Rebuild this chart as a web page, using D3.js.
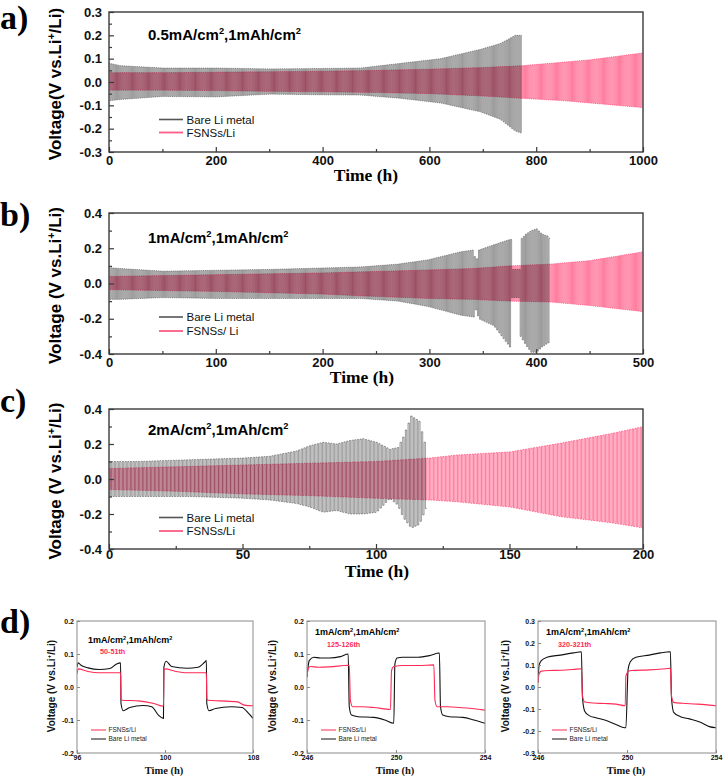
<!DOCTYPE html>
<html><head><meta charset="utf-8">
<script src="https://cdn.jsdelivr.net/npm/d3@7"></script>
<style>body{margin:0;background:#fff}svg{display:block}</style>
</head><body><div id="chart"></div>
<script>
// ================= DATA =================
const seriesNames = ["Bare Li metal", "FSNSs/Li"];

// ---- panel a: 0.5 mA/cm2, 1 mAh/cm2 (envelopes of the cycling curves) ----
const aHalfCycle = 2;
const aBareT  = [0, 20, 100, 200, 300, 400, 470, 545, 620, 695, 732, 760, 773];
const aBareHi = [0.08, 0.07, 0.06, 0.06, 0.056, 0.058, 0.06, 0.08, 0.1, 0.14, 0.165, 0.2, 0.2];
const aBareLo = [-0.08, -0.075, -0.062, -0.064, -0.052, -0.055, -0.056, -0.07, -0.09, -0.128, -0.16, -0.21, -0.22];
const aFsnT   = [0, 100, 200, 300, 400, 500, 600, 700, 773, 850, 900, 950, 1000];
const aFsnHi  = [0.04, 0.04, 0.042, 0.044, 0.046, 0.05, 0.055, 0.062, 0.07, 0.085, 0.095, 0.11, 0.125];
const aFsnLo  = [-0.035, -0.035, -0.037, -0.04, -0.042, -0.045, -0.05, -0.06, -0.07, -0.08, -0.09, -0.1, -0.11];
const aXTicks = [0, 200, 400, 600, 800, 1000];
const aXMinor = [100, 300, 500, 700, 900];
const aYTicks = [-0.3, -0.2, -0.1, 0.0, 0.1, 0.2, 0.3];
const aYMinor = [-0.25, -0.15, -0.05, 0.05, 0.15, 0.25];

// ---- panel b: 1 mA/cm2, 1 mAh/cm2 ----
const bHalfCycle = 1;
const bBareT  = [0, 10, 50, 100, 150, 200, 235, 270, 298, 329, 341, 343, 346, 360, 375, 376, 377, 384, 385, 390, 395, 400, 405, 410, 413];
const bBareHi = [0.09, 0.085, 0.07, 0.075, 0.08, 0.088, 0.094, 0.11, 0.134, 0.18, 0.19, 0.116, 0.19, 0.22, 0.25, 0.25, 0.08, 0.08, 0.25, 0.28, 0.3, 0.31, 0.28, 0.27, 0.25];
const bBareLo = [-0.09, -0.09, -0.08, -0.085, -0.085, -0.085, -0.085, -0.1, -0.13, -0.18, -0.19, -0.15, -0.2, -0.24, -0.36, -0.36, -0.08, -0.08, -0.3, -0.35, -0.39, -0.39, -0.36, -0.34, -0.33];
const bFsnT   = [0, 100, 200, 235, 300, 340, 375, 413, 450, 500];
const bFsnHi  = [0.04, 0.05, 0.06, 0.066, 0.077, 0.085, 0.1, 0.11, 0.13, 0.18];
const bFsnLo  = [-0.035, -0.045, -0.06, -0.07, -0.085, -0.09, -0.1, -0.105, -0.125, -0.16];
const bXTicks = [0, 100, 200, 300, 400, 500];
const bXMinor = [50, 150, 250, 350, 450];
const bYTicks = [-0.4, -0.2, 0.0, 0.2, 0.4];
const bYMinor = [-0.3, -0.1, 0.1, 0.3];

// ---- panel c: 2 mA/cm2, 1 mAh/cm2 ----
const cHalfCycle = 0.5;
const cBareT  = [0, 10, 30, 50, 60, 70, 75, 80, 85, 90, 95, 100, 105, 108, 110, 113, 116, 119];
const cBareHi = [0.1, 0.1, 0.11, 0.12, 0.13, 0.16, 0.19, 0.21, 0.2, 0.22, 0.23, 0.21, 0.17, 0.18, 0.24, 0.36, 0.33, 0.15];
const cBareLo = [-0.1, -0.1, -0.1, -0.11, -0.12, -0.14, -0.16, -0.19, -0.18, -0.2, -0.2, -0.19, -0.11, -0.15, -0.22, -0.28, -0.26, -0.15];
const cFsnT   = [0, 25, 50, 75, 100, 120, 130, 150, 169, 188, 200];
const cFsnHi  = [0.06, 0.07, 0.08, 0.09, 0.1, 0.12, 0.137, 0.155, 0.205, 0.26, 0.3];
const cFsnLo  = [-0.06, -0.07, -0.085, -0.095, -0.11, -0.12, -0.13, -0.16, -0.215, -0.25, -0.28];
const cFsnFirstValue = -0.4;
const cXTicks = [0, 50, 100, 150, 200];
const cXMinor = [25, 75, 125, 175];
const cYTicks = [-0.4, -0.2, 0.0, 0.2, 0.4];
const cYMinor = [-0.3, -0.1, 0.1, 0.3];

// ---- panel d: voltage profiles of selected cycles (1 mA/cm2) ----
const d1FsnT  = [96, 96.05, 96.5, 97, 97.98, 98.0, 98.05, 98.8, 99.5, 99.93, 99.95, 100.0, 100.5, 101, 101.88, 101.9, 101.95, 102.5, 103.3, 103.6, 104];
const d1FsnV  = [0.04, 0.055, 0.047, 0.043, 0.043, -0.035, -0.04, -0.042, -0.05, -0.058, 0.05, 0.055, 0.047, 0.043, 0.043, -0.035, -0.04, -0.042, -0.045, -0.055, -0.057];
const d1BareT = [96, 96.05, 96.2, 96.5, 97, 97.5, 97.8, 97.98, 98.0, 98.1, 98.4, 99, 99.4, 99.7, 99.93, 99.95, 100.05, 100.3, 101, 101.5, 101.8, 101.88, 101.9, 102.0, 102.3, 103, 103.5, 103.8, 104];
const d1BareV = [0.06, 0.073, 0.065, 0.058, 0.053, 0.056, 0.07, 0.073, -0.05, -0.072, -0.062, -0.056, -0.06, -0.085, -0.095, 0.06, 0.078, 0.062, 0.057, 0.06, 0.075, 0.08, -0.05, -0.072, -0.065, -0.06, -0.062, -0.08, -0.095];
const d1XTicks = [96, 100, 104];
const d1XLabels = ["96", "100", "108"];

const d2FsnT  = [246, 246.05, 246.15, 246.5, 247, 247.9, 247.95, 248.05, 248.5, 249, 249.75, 249.8, 249.9, 250.3, 251, 251.7, 251.75, 251.85, 252.3, 253, 254];
const d2FsnV  = [0.03, 0.055, 0.062, 0.06, 0.061, 0.066, -0.04, -0.06, -0.06, -0.062, -0.068, 0.05, 0.062, 0.065, 0.065, 0.067, -0.04, -0.06, -0.06, -0.063, -0.07];
const d2BareT = [246, 246.1, 246.3, 246.6, 247, 247.5, 247.85, 247.9, 248.0, 248.3, 249, 249.5, 249.9, 249.95, 250.05, 250.3, 251, 251.5, 251.95, 252.0, 252.1, 252.4, 253, 253.5, 254];
const d2BareV = [0.03, 0.08, 0.09, 0.088, 0.088, 0.092, 0.1, -0.06, -0.085, -0.09, -0.092, -0.1, -0.11, 0.07, 0.088, 0.09, 0.09, 0.095, 0.103, -0.06, -0.085, -0.09, -0.092, -0.1, -0.11];

const d3FsnT  = [246, 246.05, 246.15, 246.5, 247, 247.6, 247.95, 248.0, 248.1, 248.5, 249, 249.5, 249.92, 249.95, 250.05, 250.2, 251, 251.6, 251.95, 252.0, 252.1, 252.5, 253, 253.5, 254];
const d3FsnV  = [0.02, 0.06, 0.072, 0.075, 0.076, 0.08, 0.083, -0.04, -0.068, -0.073, -0.075, -0.078, -0.085, 0.05, 0.07, 0.075, 0.078, 0.082, 0.085, -0.04, -0.07, -0.074, -0.077, -0.08, -0.085];
const d3BareT = [246, 246.05, 246.15, 246.4, 247, 247.6, 247.95, 248.0, 248.1, 248.3, 248.6, 249, 249.5, 249.9, 249.95, 250.05, 250.15, 250.4, 251, 251.5, 251.95, 252.0, 252.1, 252.4, 252.8, 253.3, 253.7, 254];
const d3BareV = [0.02, 0.1, 0.12, 0.135, 0.145, 0.155, 0.16, -0.05, -0.11, -0.13, -0.14, -0.15, -0.17, -0.185, -0.185, 0.08, 0.115, 0.135, 0.145, 0.155, 0.16, -0.05, -0.115, -0.135, -0.145, -0.16, -0.18, -0.185];
const d23XTicks = [246, 250, 254];
const dYTicks2 = [-0.2, -0.1, 0.0, 0.1, 0.2];
const dYTicks3 = [-0.3, -0.2, -0.1, 0.0, 0.1, 0.2, 0.3];
const dCycleLabels = ["50-51th", "125-126th", "320-321th"];

// ================= DRAWING =================
const W = 723, H = 778;
const SANS = "'Liberation Sans', Arial, sans-serif";
const SERIF = "'Liberation Serif', 'Times New Roman', serif";
const BLACK = "#1e1e1e", PINK = "#ff3a6e", RED = "#ff2a55";

const svg = d3.select("#chart").append("svg").attr("width", W).attr("height", H)
  .style("background", "#fff");

function rich(g, x, y, parts, opts) {
  const t = g.append("text").attr("x", x).attr("y", y);
  Object.entries(opts.attrs || {}).forEach(([k, v]) => t.attr(k, v));
  const fs = opts.size, sh = fs * 0.38;
  let up = false;
  parts.forEach(p => {
    if (p.startsWith("^")) {
      t.append("tspan").attr("dy", -sh).attr("font-size", fs * 0.62).text(p.slice(1));
      up = true;
    } else {
      const ts = t.append("tspan").text(p);
      if (up) { ts.attr("dy", sh); up = false; }
    }
  });
  return t;
}

function waveData(T, Hi, Lo, half) {
  const hi = d3.scaleLinear().domain(T).range(Hi);
  const lo = d3.scaleLinear().domain(T).range(Lo);
  const t0 = T[0], end = T[T.length - 1];
  const n = Math.round((end - t0) / half);
  const pts = [];
  for (let k = 0; k < n; k++) {
    const t = t0 + k * half;
    pts.push([t, k % 2 === 0 ? hi(t) : lo(t)]);
  }
  const last = pts[pts.length - 1];
  pts.push([end, last[1]]);
  return pts;
}

const mainPanels = [
  { key: "a", L: 109, R: 643, T: 12, B: 152, xMax: 1000, xTicks: aXTicks, xMinor: aXMinor, yTicks: aYTicks, yMinor: aYMinor,
    yDom: [-0.3, 0.3], half: aHalfCycle,
    bare: [aBareT, aBareHi, aBareLo], fsn: [aFsnT, aFsnHi, aFsnLo], fsnFirst: null,
    title: ["0.5mA/cm", "^2", ",1mAh/cm", "^2"], titleY: 40,
    yLabel: ["Voltage(V vs.Li", "^+", "/Li)"], letterY: 29, xLabOff: 14, timeX: 366, timeY: 181,
    legY: [119.5, 132.5], legNames: ["Bare Li metal", "FSNSs/Li"] },
  { key: "b", L: 109, R: 643, T: 213, B: 354, xMax: 500, xTicks: bXTicks, xMinor: bXMinor, yTicks: bYTicks, yMinor: bYMinor,
    yDom: [-0.4, 0.4], half: bHalfCycle,
    bare: [bBareT, bBareHi, bBareLo], fsn: [bFsnT, bFsnHi, bFsnLo], fsnFirst: null,
    title: ["1mA/cm", "^2", ",1mAh/cm", "^2"], titleY: 243,
    yLabel: ["Voltage (V vs.Li", "^+", "/Li)"], letterY: 226, xLabOff: 14, timeX: 362, timeY: 383,
    legY: [317, 331], legNames: ["Bare Li metal", "FSNSs/ Li"] },
  { key: "c", L: 109, R: 643, T: 409, B: 549, xMax: 200, xTicks: cXTicks, xMinor: cXMinor, yTicks: cYTicks, yMinor: cYMinor,
    yDom: [-0.4, 0.4], half: cHalfCycle,
    bare: [cBareT, cBareHi, cBareLo], fsn: [cFsnT, cFsnHi, cFsnLo], fsnFirst: cFsnFirstValue,
    title: ["2mA/cm", "^2", ",1mAh/cm", "^2"], titleY: 435,
    yLabel: ["Voltage (V vs.Li", "^+", "/Li)"], letterY: 412, xLabOff: 10.5, timeX: 377, timeY: 577,
    legY: [517.5, 531], legNames: ["Bare Li metal", "FSNSs/Li"] }
];

const fmt1 = d => d.toFixed(1);

mainPanels.forEach(p => {
  const g = svg.append("g");
  const x = d3.scaleLinear().domain([0, p.xMax]).range([p.L, p.R]);
  const y = d3.scaleLinear().domain(p.yDom).range([p.B, p.T]);
  const clipId = "clip-" + p.key;
  svg.append("clipPath").attr("id", clipId).append("rect")
    .attr("x", p.L).attr("y", p.T).attr("width", p.R - p.L).attr("height", p.B - p.T);

  const line = d3.line().x(d => x(d[0])).y(d => y(d[1])).curve(d3.curveStepAfter);
  const bare = waveData(p.bare[0], p.bare[1], p.bare[2], p.half);
  let fsn = waveData(p.fsn[0], p.fsn[1], p.fsn[2], p.half);
  if (p.fsnFirst !== null) fsn = [[0, p.fsnFirst]].concat(fsn);

  const pg = g.append("g").attr("clip-path", `url(#${clipId})`);
  pg.append("path").attr("d", line(fsn)).attr("fill", "none")
    .attr("stroke", PINK).attr("stroke-width", 0.85).attr("stroke-opacity", 0.8);
  pg.append("path").attr("d", line(bare)).attr("fill", "none")
    .attr("stroke", BLACK).attr("stroke-width", 0.55).attr("stroke-opacity", 0.82);

  // frame
  g.append("rect").attr("x", p.L).attr("y", p.T).attr("width", p.R - p.L).attr("height", p.B - p.T)
    .attr("fill", "none").attr("stroke", "#3a3a3a").attr("stroke-width", 1.4);

  // axes (ticks inward)
  g.append("g").attr("transform", `translate(${p.L},0)`)
    .call(d3.axisLeft(y).tickValues(p.yTicks).tickFormat(fmt1).tickSize(-5).tickPadding(7));
  g.append("g").attr("transform", `translate(${p.L},0)`)
    .call(d3.axisLeft(y).tickValues(p.yMinor).tickFormat("").tickSize(-3));
  g.append("g").attr("transform", `translate(0,${p.B})`)
    .call(d3.axisBottom(x).tickValues(p.xTicks).tickFormat(d3.format("d")).tickSize(-5).tickPadding(p.xLabOff - 10));
  g.append("g").attr("transform", `translate(0,${p.B})`)
    .call(d3.axisBottom(x).tickValues(p.xMinor).tickFormat("").tickSize(-3));
  g.selectAll(".domain").remove();
  g.selectAll(".tick line").attr("stroke", "#3a3a3a").attr("stroke-width", 1.2);
  g.selectAll(".tick text").attr("font-family", SANS).attr("font-weight", "bold")
    .attr("font-size", 13).attr("fill", "#111");

  // panel letter
  g.append("text").attr("x", 0).attr("y", p.letterY).text(p.key + ")")
    .attr("font-family", SERIF).attr("font-weight", "bold").attr("font-size", 34).attr("fill", "#000");

  // title
  rich(g, 148, p.titleY, p.title, { size: 15, attrs: { "font-family": SANS, "font-weight": "bold", "font-size": 15, fill: "#000" } });

  // y label
  rich(g, 0, 0, p.yLabel, { size: 17, attrs: { "font-family": SANS, "font-weight": "bold", "font-size": 17, fill: "#000",
    "text-anchor": "middle", transform: `translate(61,${(p.T + p.B) / 2 + 2}) rotate(-90)` } });

  // x label
  g.append("text").attr("x", p.timeX).attr("y", p.timeY).attr("text-anchor", "middle").text("Time (h)")
    .attr("font-family", SERIF).attr("font-weight", "bold").attr("font-size", 17.5).attr("fill", "#000");

  // legend
  const lc = [{ c: "#555", w: 1.6 }, { c: "#ff5c86", w: 1.8 }];
  p.legNames.forEach((name, i) => {
    g.append("line").attr("x1", 159).attr("x2", 183).attr("y1", p.legY[i]).attr("y2", p.legY[i])
      .attr("stroke", lc[i].c).attr("stroke-width", lc[i].w);
    g.append("text").attr("x", 186.5).attr("y", p.legY[i]).attr("dy", "0.35em").text(name)
      .attr("font-family", SANS).attr("font-size", 11.5).attr("fill", "#111");
  });
});

// ---------- panel d ----------
svg.append("text").attr("x", 0).attr("y", 633).text("d)")
  .attr("font-family", SERIF).attr("font-weight", "bold").attr("font-size", 34).attr("fill", "#000");

const dPanels = [
  { L: 77, R: 253, xDom: [96, 104], xTicks: d1XTicks, xLabels: d1XLabels, yDom: [-0.2, 0.2], yTicks: dYTicks2,
    fsn: [d1FsnT, d1FsnV], bare: [d1BareT, d1BareV], tx: 88, ty: 643, cy: 654, ylx: 55, cyc: dCycleLabels[0] },
  { L: 307, R: 485, xDom: [246, 254], xTicks: d23XTicks, xLabels: d23XTicks.map(String), yDom: [-0.2, 0.2], yTicks: dYTicks2,
    fsn: [d2FsnT, d2FsnV], bare: [d2BareT, d2BareV], tx: 315, ty: 635, cy: 647, ylx: 276, cyc: dCycleLabels[1] },
  { L: 538, R: 716, xDom: [246, 254], xTicks: d23XTicks, xLabels: d23XTicks.map(String), yDom: [-0.3, 0.3], yTicks: dYTicks3,
    fsn: [d3FsnT, d3FsnV], bare: [d3BareT, d3BareV], tx: 546, ty: 635, cy: 647, ylx: 509, cyc: dCycleLabels[2] }
];
const dT = 621, dB = 753;

dPanels.forEach((p, idx) => {
  const g = svg.append("g");
  const x = d3.scaleLinear().domain(p.xDom).range([p.L, p.R]);
  const y = d3.scaleLinear().domain(p.yDom).range([dB, dT]);
  const clipId = "clipd" + idx;
  svg.append("clipPath").attr("id", clipId).append("rect")
    .attr("x", p.L).attr("y", dT).attr("width", p.R - p.L).attr("height", dB - dT);
  const line = d3.line().x(d => x(d[0])).y(d => y(d[1])).curve(d3.curveMonotoneX);
  const pg = g.append("g").attr("clip-path", `url(#${clipId})`);
  pg.append("path").attr("d", line(p.bare[0].map((t, i) => [t, p.bare[1][i]])))
    .attr("fill", "none").attr("stroke", "#111").attr("stroke-width", 1.1);
  pg.append("path").attr("d", line(p.fsn[0].map((t, i) => [t, p.fsn[1][i]])))
    .attr("fill", "none").attr("stroke", RED).attr("stroke-width", 1.1);

  g.append("rect").attr("x", p.L).attr("y", dT).attr("width", p.R - p.L).attr("height", dB - dT)
    .attr("fill", "none").attr("stroke", "#8a8a8a").attr("stroke-width", 1);

  g.append("g").attr("transform", `translate(${p.L},0)`)
    .call(d3.axisLeft(y).tickValues(p.yTicks).tickFormat(fmt1).tickSize(-3).tickPadding(3));
  g.append("g").attr("transform", `translate(0,${dB})`)
    .call(d3.axisBottom(x).tickValues(p.xTicks).tickFormat((d, i) => p.xLabels[i]).tickSize(-3).tickPadding(2));
  g.selectAll(".domain").remove();
  g.selectAll(".tick line").attr("stroke", "#8a8a8a");
  g.selectAll(".tick text").attr("font-family", SANS).attr("font-weight", "bold")
    .attr("font-size", 7).attr("fill", "#111");

  rich(g, p.tx, p.ty, ["1mA/cm", "^2", ",1mAh/cm", "^2"], { size: 9, attrs: { "font-family": SANS, "font-weight": "bold", "font-size": 9, fill: "#000" } });
  g.append("text").attr("x", p.tx + 12).attr("y", p.cy).text(p.cyc)
    .attr("font-family", SANS).attr("font-weight", "bold").attr("font-size", 7.2).attr("fill", RED);

  rich(g, 0, 0, ["Voltage (V vs.Li", "^+", "/Li)"], { size: 10, attrs: { "font-family": SANS, "font-weight": "bold", "font-size": 10, fill: "#111",
    "text-anchor": "middle", transform: `translate(${p.ylx},686) rotate(-90)` } });

  g.append("text").attr("x", (p.L + p.R) / 2 - 1).attr("y", 774).attr("text-anchor", "middle").text("Time (h)")
    .attr("font-family", SERIF).attr("font-weight", "bold").attr("font-size", 10.5).attr("fill", "#111");

  const lx = p.L + 14;
  const legs = [{ n: seriesNames[1], c: RED, yy: 730 }, { n: seriesNames[0], c: "#111", yy: 739 }];
  legs.forEach(l => {
    g.append("line").attr("x1", lx).attr("x2", lx + 15).attr("y1", l.yy).attr("y2", l.yy)
      .attr("stroke", l.c).attr("stroke-width", 1);
    g.append("text").attr("x", lx + 17.5).attr("y", l.yy).attr("dy", "0.35em").text(l.n)
      .attr("font-family", SANS).attr("font-size", 6.5).attr("fill", "#222");
  });
});
</script></body></html>
